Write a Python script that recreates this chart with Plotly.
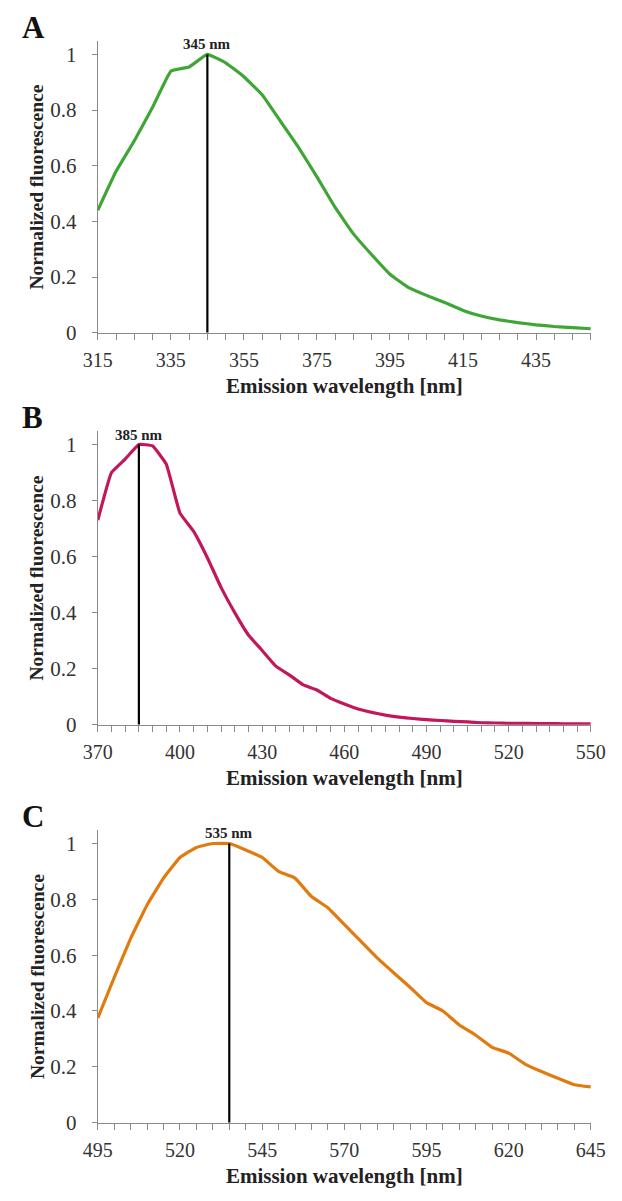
import plotly.graph_objects as go

# ---- data ----
wl_a = [315, 320, 325, 330, 335, 340, 345, 350, 355, 360, 365, 370, 375, 380, 385,
        390, 395, 400, 405, 410, 415, 420, 425, 430, 435, 440, 445, 450]
fl_a = [0.44, 0.58, 0.69, 0.81, 0.94, 0.955, 1.0, 0.97, 0.92, 0.855, 0.76, 0.665, 0.56, 0.45,
        0.355, 0.28, 0.21, 0.163, 0.134, 0.108, 0.08, 0.06, 0.046, 0.036, 0.028, 0.022, 0.018, 0.014]

wl_b = [370, 375, 380, 385, 390, 395, 400, 405, 410, 415, 420, 425, 430, 435, 440, 445,
        450, 455, 460, 465, 470, 475, 480, 485, 490, 495, 500, 505, 510, 515, 520, 525,
        530, 535, 540, 545, 550]
fl_b = [0.73, 0.90, 0.948, 1.0, 0.995, 0.93, 0.755, 0.69, 0.596, 0.49, 0.40, 0.32, 0.265,
        0.209, 0.177, 0.142, 0.124, 0.094, 0.074, 0.056, 0.044, 0.034, 0.027, 0.022, 0.018,
        0.015, 0.012, 0.01, 0.007, 0.006, 0.005, 0.005, 0.004, 0.004, 0.003, 0.003, 0.003]

wl_c = [495, 500, 505, 510, 515, 520, 525, 530, 535, 540, 545, 550, 555, 560, 565, 570,
        575, 580, 585, 590, 595, 600, 605, 610, 615, 620, 625, 630, 635, 640, 645]
fl_c = [0.375, 0.52, 0.66, 0.78, 0.876, 0.95, 0.986, 1.0, 1.0, 0.977, 0.95, 0.90, 0.876,
        0.81, 0.77, 0.71, 0.65, 0.59, 0.537, 0.485, 0.43, 0.40, 0.35, 0.313, 0.27, 0.249,
        0.21, 0.183, 0.159, 0.136, 0.128]

panel_letters = ["A", "B", "C"]
peaks_nm = [345, 385, 535]
peak_labels = ["345 nm", "385 nm", "535 nm"]
x_ranges = [[315, 450], [370, 550], [495, 645]]
x_tick0 = [315, 370, 495]
x_dtick = [20, 30, 25]
colors = ["#3fa535", "#c2185b", "#e07b10"]
x_title = "Emission wavelength [nm]"
y_title = "Normalized fluorescence"

W, H = 622, 1201
# pixel positions of y=0 and y=1 for each panel
y0_px = [336, 732, 1134]
y1_px = [55, 449, 852]

FONT = "Liberation Serif"

fig = go.Figure()
series = [(wl_a, fl_a), (wl_b, fl_b), (wl_c, fl_c)]

layout = dict(
    width=W, height=H,
    margin=dict(l=0, r=0, t=0, b=0),
    paper_bgcolor="white", plot_bgcolor="white",
    showlegend=False,
    font=dict(family=FONT, color="#222222", size=19),
)
annotations = []
for i in range(3):
    xa = "xaxis" if i == 0 else f"xaxis{i+1}"
    ya = "yaxis" if i == 0 else f"yaxis{i+1}"
    xr = "x" if i == 0 else f"x{i+1}"
    yr = "y" if i == 0 else f"y{i+1}"
    wl, fl = series[i]
    fig.add_trace(go.Scatter(x=wl, y=fl, mode="lines",
                             line=dict(color=colors[i], width=3.2, shape="spline", smoothing=0.3),
                             xaxis=xr, yaxis=yr, hoverinfo="skip"))
    fig.add_trace(go.Scatter(x=[peaks_nm[i], peaks_nm[i]], y=[0, 1], mode="lines",
                             line=dict(color="black", width=2.2),
                             xaxis=xr, yaxis=yr, hoverinfo="skip"))
    unit = (y0_px[i] - y1_px[i])
    top_px = y0_px[i] - 1.05 * unit
    dom = [1 - y0_px[i] / H, 1 - top_px / H]
    layout[xa] = dict(
        domain=[87 / W, 605 / W], range=x_ranges[i], anchor=yr,
        tick0=x_tick0[i], dtick=x_dtick[i],
        showline=True, linecolor="#8a8a8a", linewidth=1.2,
        ticks="outside", ticklen=6, tickcolor="#8a8a8a", tickwidth=1,
        minor=dict(dtick=5, tick0=x_tick0[i], ticks="outside", ticklen=6,
                   tickcolor="#8a8a8a", tickwidth=1, showgrid=False),
        ticklabelstandoff=3,
        showgrid=False, zeroline=False,
        tickfont=dict(family=FONT, size=20, color="#333333"),
        title=dict(text=f"<b>{x_title}</b>", standoff=8,
                   font=dict(family=FONT, size=21, color="#222222")),
    )
    layout[ya] = dict(
        domain=dom, range=[0, 1.05], anchor=xr,
        tick0=0, dtick=0.2,
        showline=True, linecolor="#8a8a8a", linewidth=1.2,
        ticks="outside", ticklen=5, tickcolor="#8a8a8a",
        ticklabelstandoff=11,
        showgrid=False, zeroline=False,
        tickfont=dict(family=FONT, size=21, color="#333333"),
    )
    mid_px = (y0_px[i] + y0_px[i] - 1.05 * unit) / 2
    annotations.append(dict(x=23 / W, y=1 - mid_px / H, xref="paper", yref="paper",
                            text=f"<b>{y_title}</b>", textangle=-90, showarrow=False,
                            xanchor="center", yanchor="middle",
                            font=dict(family=FONT, size=19.5, color="#222222")))
    annotations.append(dict(x=peaks_nm[i], y=1, xref=xr, yref=yr, text=f"<b>{peak_labels[i]}</b>",
                            showarrow=False, yanchor="bottom", yshift=0,
                            font=dict(family=FONT, size=15, color="#222222")))
    annotations.append(dict(x=5 / W, y=1 - (y1_px[i] - 27) / H, xref="paper", yref="paper",
                            text=f"<b>{panel_letters[i]}</b>", showarrow=False,
                            xanchor="left", yanchor="middle",
                            font=dict(family=FONT, size=31, color="#111111")))
layout["annotations"] = annotations
fig.update_layout(**layout)
fig.write_html("out.html")
